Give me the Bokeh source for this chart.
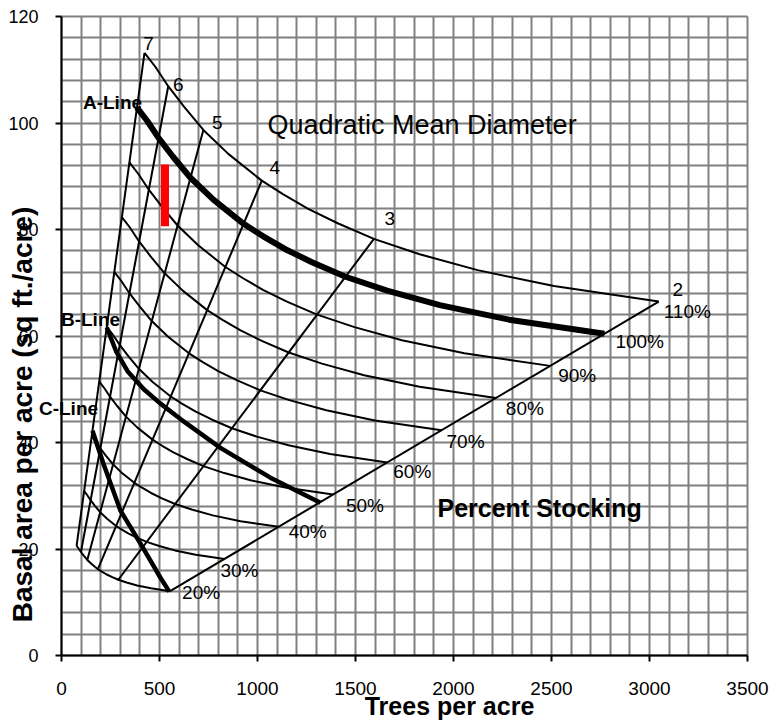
import math
from bokeh.plotting import figure
from bokeh.models import Range1d, SingleIntervalTicker, Label, Grid, BoxAnnotation
from bokeh.embed import file_html
from bokeh.resources import INLINE

# ---- data ----
# quadratic mean diameter (in) and trees per acre on the A-line (100 % stocking)
qmd = [7.0, 6.5, 6.0, 5.5, 5.0, 4.5, 4.0, 3.75, 3.5, 3.25, 3.0, 2.75, 2.5, 2.25, 2.0]
tpa_full = [385, 436, 495, 568, 658, 775, 929, 1027, 1142, 1281, 1449, 1661, 1930, 2284, 2770]
stocking_pct = [20, 30, 40, 50, 60, 70, 80, 90, 100, 110]
qmd_lines = [7, 6, 5, 4, 3, 2]

b_line_tpa = [231, 280, 337, 420, 505, 607, 811, 1066, 1321]
b_line_ba = [61.6, 57.0, 53.4, 50.0, 47.3, 44.4, 39.0, 33.4, 28.7]
c_line_tpa = [158, 214, 301, 403, 505, 550]
c_line_ba = [42.2, 36.0, 27.2, 21.0, 14.6, 12.0]
marker_tpa = [528, 528]
marker_ba = [80.6, 92.2]

x_ticks_step = 500
y_ticks_step = 20
X_MAX, Y_MAX = 3500, 120

BAF = math.pi / 576.0  # sq ft of basal area per (inch diameter)^2


def ba(d, n):
    return BAF * d * d * n


FONT = "Liberation Sans"

# ---- geometry: the frame fills the figure; data box placed inside it ----
W, H = 772, 720
PAGE = 0
BOX_L, BOX_R, BOX_T, BOX_B = 61 - PAGE, 747 - PAGE, 16 - PAGE, 655 - PAGE  # figure px
SX = X_MAX / (BOX_R - BOX_L)   # data per px
SY = Y_MAX / (BOX_B - BOX_T)
x0 = -BOX_L * SX
x1 = X_MAX + (W - BOX_R) * SX
y0 = -(H - BOX_B) * SY
y1 = Y_MAX + BOX_T * SY


def px_x(px):  # page pixel -> data x
    return (px - PAGE - BOX_L) * SX


def px_y(py):  # page pixel -> data y
    return (BOX_B - (py - PAGE)) * SY


p = figure(width=W, height=H, x_range=Range1d(x0, x1), y_range=Range1d(y0, y1),
           output_backend="svg", toolbar_location=None)
p.min_border = 0
p.background_fill_color = "white"
p.border_fill_color = "white"
p.outline_line_color = None

p.xaxis.fixed_location = 0
p.yaxis.fixed_location = 0
p.xaxis.bounds = (0, X_MAX)
p.yaxis.bounds = (0, Y_MAX)
p.xaxis.ticker = SingleIntervalTicker(interval=x_ticks_step)
p.yaxis.ticker = SingleIntervalTicker(interval=y_ticks_step)
p.xgrid.ticker = SingleIntervalTicker(interval=100)
p.ygrid.ticker = SingleIntervalTicker(interval=4)
p.xgrid.bounds = (0, X_MAX)
p.ygrid.bounds = (0, Y_MAX)
has_cross = "cross_bounds" in Grid.properties()
if has_cross:
    p.xgrid.cross_bounds = (0, Y_MAX)
    p.ygrid.cross_bounds = (0, X_MAX)
for g in (p.xgrid, p.ygrid):
    g.grid_line_color = "#808080"
    g.grid_line_width = 2
    g.grid_line_alpha = 1.0
if not has_cross:
    for kw in (dict(right=0), dict(top=0), dict(left=X_MAX + 8), dict(bottom=Y_MAX + 0.3)):
        p.add_layout(BoxAnnotation(fill_color="white", fill_alpha=1.0, line_color=None,
                                   level="underlay", **kw))
for ax in (p.xaxis, p.yaxis):
    ax.axis_line_color = "black"
    ax.axis_line_width = 2
    ax.major_tick_line_color = "black"
    ax.major_tick_line_width = 2
    ax.major_tick_in = 0
    ax.major_tick_out = 6
    ax.minor_tick_line_color = None
    ax.major_label_text_font = FONT
    ax.major_label_text_color = "black"
p.xaxis.major_label_text_font_size = "19px"
p.yaxis.major_label_text_font_size = "18px"
p.xaxis.major_label_standoff = 20
p.yaxis.major_label_standoff = 17

# stocking curves
ends = {}
for pct in stocking_pct:
    xs = [pct / 100.0 * n for n in tpa_full]
    ys = [ba(d, x) for d, x in zip(qmd, xs)]
    ends[pct] = (xs[-1], ys[-1])
    p.line(xs, ys, line_color="black", line_width=6 if pct == 100 else 2,
           line_join="round")

# diameter lines
lo, hi = min(stocking_pct) / 100.0, max(stocking_pct) / 100.0
tops = {}
for d in qmd_lines:
    n = tpa_full[qmd.index(float(d))]
    xs = [lo * n, hi * n]
    ys = [ba(d, x) for x in xs]
    tops[d] = (xs[1], ys[1])
    p.line(xs, ys, line_color="black", line_width=2)

p.line(b_line_tpa, b_line_ba, line_color="black", line_width=4.5, line_join="round")
p.line(c_line_tpa, c_line_ba, line_color="black", line_width=4.5, line_join="round")
p.line(marker_tpa, marker_ba, line_color="#ff0000", line_width=8)


def add_label(x, y, text, size, bold=False, align="left", angle=0.0):
    p.add_layout(Label(x=x, y=y, text=text, text_font=FONT, text_font_size=size,
                       text_font_style="bold" if bold else "normal",
                       text_align=align, text_baseline="middle", angle=angle,
                       text_color="black"))


# percent labels: pixel offsets (right, down) from the 2-inch end of each curve
pct_offsets = {20: (12, 1), 30: (-4, 12), 40: (10, 5), 50: (13, 11), 60: (6, 9),
               70: (5, 11), 80: (10, 10), 90: (8, 10), 100: (11, 8), 110: (5, 10)}
for pct in stocking_pct:
    x, y = ends[pct]
    ox, oy = pct_offsets[pct]
    add_label(x + ox * SX, y - oy * SY, f"{pct}%", "19px")

# diameter labels: pixel offsets from the 110 % end of each diameter line
d_offsets = {7: (4, -9), 6: (10, -2), 5: (14, -7), 4: (13, -13), 3: (16, -20), 2: (19, -12)}
for d in qmd_lines:
    x, y = tops[d]
    ox, oy = d_offsets[d]
    add_label(x + ox * SX, y - oy * SY, str(d), "19px", align="center")

add_label(px_x(112), px_y(102), "A-Line", "19px", bold=True, align="center")
add_label(px_x(90), px_y(319), "B-Line", "19px", bold=True, align="center")
add_label(px_x(68), px_y(408), "C-Line", "19px", bold=True, align="center")
add_label(px_x(267), px_y(124), "Quadratic Mean Diameter", "27px")
add_label(px_x(437), px_y(507), "Percent Stocking", "25px", bold=True)

add_label(px_x(449), px_y(705), "Trees per acre", "25px", bold=True, align="center")
add_label(px_x(22), px_y(414), "Basal area per acre (sq ft./acre)", "28px", bold=True,
          align="center", angle=math.pi / 2)

open("out.html", "w").write(file_html(p, INLINE))
